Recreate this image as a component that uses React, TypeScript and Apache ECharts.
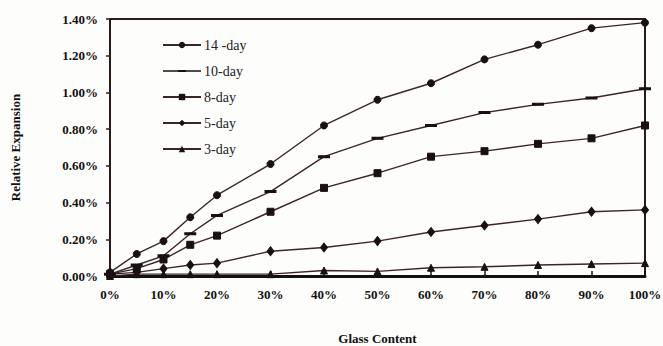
import React, { useEffect, useRef } from "react";
import * as echarts from "echarts";

const glassContent = [0, 5, 10, 15, 20, 30, 40, 50, 60, 70, 80, 90, 100];
const day14 = [0.02, 0.12, 0.19, 0.32, 0.44, 0.61, 0.82, 0.96, 1.05, 1.18, 1.26, 1.35, 1.38];
const day10 = [0.01, 0.06, 0.11, 0.23, 0.33, 0.46, 0.65, 0.75, 0.82, 0.89, 0.935, 0.97, 1.02];
const day8 = [0.01, 0.04, 0.09, 0.17, 0.22, 0.35, 0.48, 0.56, 0.65, 0.68, 0.72, 0.75, 0.82];
const day5 = [0.01, 0.02, 0.04, 0.06, 0.07, 0.135, 0.155, 0.19, 0.24, 0.275, 0.31, 0.35, 0.36];
const day3 = [0.0, 0.01, 0.01, 0.01, 0.01, 0.01, 0.03, 0.025, 0.045, 0.05, 0.06, 0.065, 0.07];

const seriesNames = ["14 -day", "10-day", "8-day", "5-day", "3-day"];
const yTicks = [0, 0.2, 0.4, 0.6, 0.8, 1.0, 1.2, 1.4];

const LINE = "#3b2626";
const FONT = "'Liberation Serif', 'DejaVu Serif', serif";
const DASH_ICON =
  "path://M0,0h0.01v0.01h-0.01z M38,8h-0.01v-0.01h0.01z M0,3.25h38v1.5h-38z M15,3h8v2h-8z";

export default function App() {
  const ref = useRef<HTMLDivElement>(null);
  useEffect(() => {
    if (!ref.current) return;
    const chart = echarts.init(ref.current, undefined, { renderer: "svg" });
    const mk = (name: string, vals: number[], symbol: string, size: any) => ({
      name,
      type: "line",
      data: glassContent.map((x, i) => [x, vals[i]]),
      symbol,
      symbolSize: size,
      lineStyle: { color: LINE, width: 1.4 },
      itemStyle: { color: "#1a1010", borderColor: "#1a1010" },
      z: 3,
    });
    chart.setOption({
      animation: false,
      backgroundColor: "#fdfdfb",
      textStyle: { fontFamily: FONT },
      grid: {
        left: 110,
        right: 18,
        top: 19,
        bottom: 70,
        outerBoundsMode: "none",
        containLabel: false,
        show: true,
        borderColor: "#2b1a1a",
        borderWidth: 2,
        backgroundColor: "transparent",
      },
      legend: {
        orient: "vertical",
        left: 157,
        top: 33,
        itemWidth: 38,
        itemHeight: 8,
        itemGap: 12,
        data: seriesNames.map((n, i) =>
          i === 1 ? { name: n, icon: DASH_ICON } : { name: n }
        ),
        textStyle: { fontFamily: FONT, fontSize: 14, color: "#222", padding: [0, 0, 0, -2] },
      },
      xAxis: {
        type: "value",
        min: 0,
        max: 100,
        interval: 10,
        name: "Glass Content",
        nameLocation: "middle",
        nameGap: 56,
        nameTextStyle: { fontFamily: FONT, fontWeight: "bold", fontSize: 13, color: "#111" },
        axisLine: { show: true, lineStyle: { color: "#111", width: 3 } },
        axisTick: { show: true, inside: true, length: 5, lineStyle: { color: "#111", width: 1.5 } },
        axisLabel: {
          formatter: "{value}%",
          fontFamily: FONT,
          fontWeight: "bold",
          fontSize: 13,
          color: "#111",
          margin: 12,
        },
        splitLine: { show: false },
      },
      yAxis: {
        type: "value",
        min: 0,
        max: 1.4,
        interval: 0.2,
        name: "Relative Expansion",
        nameLocation: "middle",
        nameGap: 88,
        nameTextStyle: { fontFamily: FONT, fontWeight: "bold", fontSize: 13, color: "#111" },
        axisLine: { show: true, lineStyle: { color: "#2b1a1a", width: 2 } },
        axisTick: { show: true, length: 4, lineStyle: { color: "#2b1a1a", width: 1.5 } },
        axisLabel: {
          formatter: (v: number) => v.toFixed(2) + "%",
          fontFamily: FONT,
          fontWeight: "bold",
          fontSize: 13,
          color: "#111",
          margin: 12,
          customValues: yTicks,
        },
        splitLine: { show: false },
      },
      series: [
        mk(seriesNames[0], day14, "circle", 7),
        mk(seriesNames[1], day10, "rect", [8, 2]),
        mk(seriesNames[2], day8, "rect", 7),
        mk(seriesNames[3], day5, "diamond", [7, 9]),
        mk(seriesNames[4], day3, "triangle", 7),
      ],
    });
    return () => chart.dispose();
  }, []);
  return (
    <div
      ref={ref}
      style={{ position: "fixed", left: 0, top: 0, width: 663, height: 346 }}
    />
  );
}
